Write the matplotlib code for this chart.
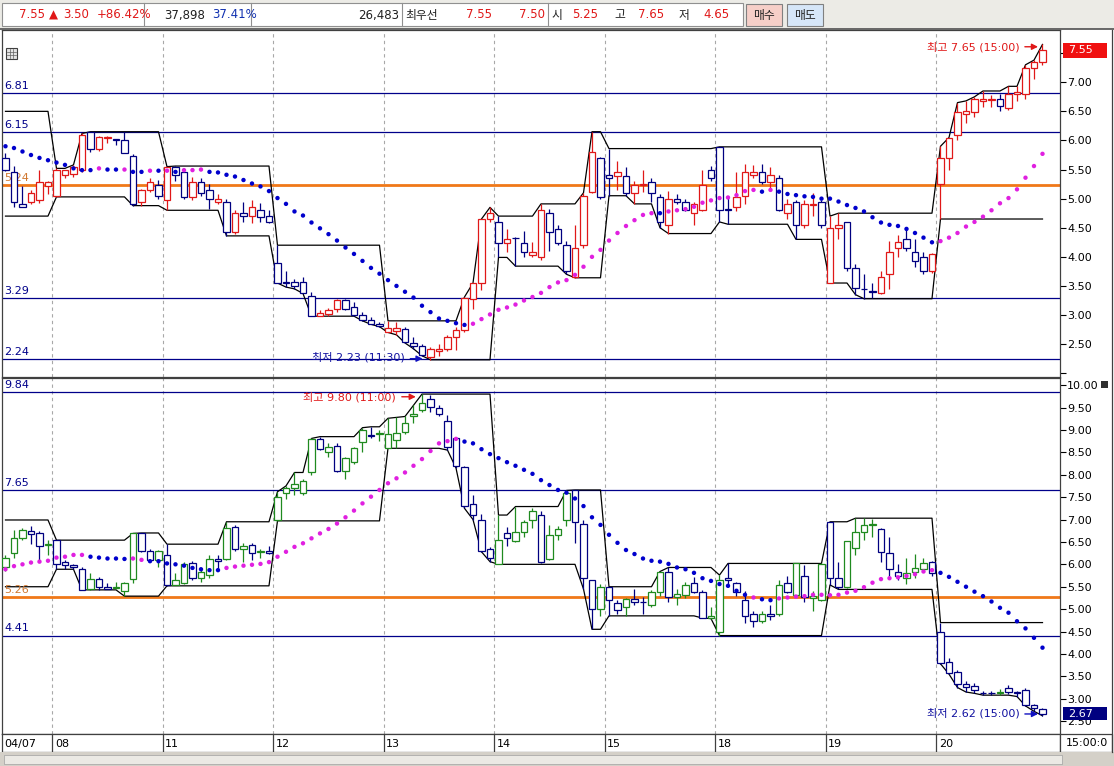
import matplotlib
matplotlib.use("Agg")
import matplotlib.pyplot as plt
from matplotlib.patches import Rectangle
from matplotlib.lines import Line2D
import numpy as np

plt.rcParams['font.family'] = ['DejaVu Sans', 'Noto Sans CJK KR']
plt.rcParams['font.size'] = 8

# ---------------- data ----------------
day_labels = ['04/07', '08', '11', '12', '13', '14', '15', '18', '19', '20']
day_sizes = [6, 13, 13, 13, 13, 13, 13, 13, 13, 13]

# upper chart (red up / navy down), one row per day
top_open = [5.70, 5.46, 4.91, 4.95, 4.97, 5.21,
            5.05, 5.40, 5.43, 5.50, 6.15, 5.85, 6.04, 6.02, 6.00, 5.74, 4.95, 5.14, 5.24,
            4.97, 5.55, 5.45, 5.03, 5.29, 5.14, 4.95, 4.95, 4.43, 4.75, 4.70, 4.81, 4.70,
            3.89, 3.56, 3.56, 3.56, 3.33, 2.98, 3.01, 3.10, 3.26, 3.14, 3.00, 2.91, 2.85,
            2.71, 2.72, 2.76, 2.52, 2.47, 2.28, 2.38, 2.41, 2.62, 2.74, 3.28, 3.55, 4.65,
            4.60, 4.24, 4.33, 4.24, 4.04, 3.99, 4.75, 4.48, 4.20, 3.66, 4.20, 5.12, 5.70,
            5.40, 5.39, 5.39, 5.09, 5.24, 5.29, 5.03, 4.55, 4.99, 4.95, 4.75, 4.80, 5.50,
            5.89, 4.82, 4.85, 5.04, 5.41, 5.45, 5.29, 5.35, 4.75, 4.95, 4.55, 4.89, 4.95,
            3.55, 4.49, 4.59, 3.80, 3.45, 3.41, 3.38, 3.70, 4.15, 4.30, 4.09, 3.99, 3.75,
            5.25, 5.69, 6.09, 6.45, 6.49, 6.68, 6.70, 6.71, 6.55, 6.79, 6.80, 7.25, 7.35]
top_high = [5.78, 5.56, 5.21, 5.15, 5.50, 5.30,
            5.52, 5.50, 5.58, 6.12, 6.15, 6.08, 6.07, 6.03, 6.15, 5.76, 5.16, 5.35, 5.32,
            5.55, 5.56, 5.48, 5.37, 5.35, 5.25, 5.08, 5.00, 4.80, 4.95, 4.98, 4.92, 4.80,
            4.20, 3.75, 3.62, 3.65, 3.40, 3.08, 3.12, 3.28, 3.28, 3.22, 3.05, 2.96, 2.88,
            2.90, 2.88, 2.80, 2.62, 2.50, 2.45, 2.50, 2.65, 2.80, 3.31, 3.55, 4.65, 4.85,
            4.70, 4.48, 4.34, 4.45, 4.25, 4.91, 4.82, 4.55, 4.28, 4.55, 5.10, 6.15, 5.72,
            5.86, 5.65, 5.55, 5.30, 5.50, 5.36, 5.08, 5.13, 5.08, 5.00, 4.95, 5.50, 5.56,
            5.89, 5.04, 5.45, 5.60, 5.58, 5.60, 5.55, 5.40, 5.00, 4.98, 4.98, 5.10, 4.98,
            4.70, 4.75, 4.60, 3.88, 3.70, 3.55, 3.75, 4.28, 4.38, 4.50, 4.30, 4.09, 4.07,
            5.90, 6.05, 6.65, 6.68, 6.75, 6.85, 6.78, 6.80, 6.93, 6.93, 7.30, 7.38, 7.65]
top_low = [5.48, 4.85, 4.85, 4.90, 4.93, 5.08,
           5.03, 5.36, 5.38, 5.45, 5.80, 5.82, 5.96, 5.92, 5.78, 4.88, 4.88, 5.12, 5.00,
           4.80, 5.30, 5.00, 4.98, 5.05, 4.82, 4.90, 4.36, 4.40, 4.60, 4.58, 4.60, 4.58,
           3.55, 3.48, 3.45, 3.37, 2.98, 2.98, 2.99, 3.05, 3.08, 2.98, 2.90, 2.84, 2.80,
           2.70, 2.66, 2.52, 2.42, 2.30, 2.23, 2.30, 2.38, 2.40, 2.70, 3.10, 3.43, 4.60,
           3.99, 4.08, 3.84, 4.00, 4.00, 3.95, 4.10, 4.20, 3.70, 3.64, 4.15, 5.10, 5.00,
           5.05, 5.15, 5.05, 4.91, 5.12, 4.95, 4.50, 4.40, 4.90, 4.78, 4.55, 4.78, 5.30,
           4.60, 4.56, 4.78, 4.90, 5.35, 5.25, 5.18, 4.78, 4.65, 4.30, 4.50, 4.70, 4.50,
           3.55, 4.30, 3.75, 3.35, 3.28, 3.30, 3.36, 3.45, 4.00, 4.10, 3.82, 3.70, 3.72,
           4.65, 5.50, 6.00, 6.30, 6.40, 6.57, 6.58, 6.50, 6.52, 6.67, 6.72, 7.05, 7.30]
top_close = [5.50, 4.95, 4.86, 5.10, 5.29, 5.29,
             5.50, 5.50, 5.54, 6.10, 5.85, 6.06, 6.06, 6.01, 5.79, 4.90, 5.14, 5.29, 5.04,
             5.55, 5.41, 5.03, 5.29, 5.09, 5.00, 4.99, 4.43, 4.76, 4.70, 4.86, 4.69, 4.59,
             3.55, 3.55, 3.50, 3.38, 2.98, 3.04, 3.09, 3.26, 3.10, 3.00, 2.91, 2.85, 2.81,
             2.77, 2.78, 2.54, 2.47, 2.31, 2.41, 2.42, 2.63, 2.74, 3.29, 3.55, 4.65, 4.75,
             4.24, 4.30, 4.32, 4.09, 4.09, 4.80, 4.43, 4.24, 3.76, 4.15, 5.05, 5.80, 5.03,
             5.35, 5.45, 5.09, 5.24, 5.26, 5.09, 4.59, 4.99, 4.95, 4.81, 4.91, 5.23, 5.35,
             4.81, 4.80, 5.03, 5.45, 5.45, 5.29, 5.41, 4.81, 4.91, 4.55, 4.91, 4.91, 4.55,
             4.49, 4.55, 3.80, 3.46, 3.44, 3.40, 3.65, 4.09, 4.25, 4.15, 3.93, 3.75, 4.05,
             5.69, 6.05, 6.49, 6.50, 6.71, 6.71, 6.71, 6.59, 6.80, 6.84, 7.25, 7.35, 7.55]
top_first_day_hilo = (6.50, 4.70)

top_sar = [5.90, 5.87, 5.81, 5.75, 5.70, 5.66,
           5.62, 5.58, 5.52, 5.49, 5.49, 5.52, 5.50, 5.50, 5.50, 5.46, 5.46, 5.48, 5.48,
           5.48, 5.46, 5.49, 5.49, 5.50, 5.46, 5.45, 5.41, 5.38, 5.32, 5.26, 5.21, 5.13,
           5.01, 4.91, 4.78, 4.71, 4.59, 4.49, 4.39, 4.28, 4.16, 4.05, 3.93, 3.81, 3.71,
           3.60, 3.50, 3.40, 3.30, 3.16, 3.05, 2.94, 2.90, 2.86, 2.83, 2.85, 2.93, 3.01,
           3.09, 3.13, 3.18, 3.25, 3.31, 3.38, 3.48, 3.56, 3.60, 3.69, 3.83, 4.00, 4.12,
           4.28, 4.41, 4.53, 4.63, 4.72, 4.75, 4.75, 4.78, 4.80, 4.82, 4.86, 4.93, 4.97,
           5.01, 5.02, 5.06, 5.13, 5.15, 5.12, 5.15, 5.12, 5.08, 5.06, 5.04, 5.03, 5.00,
           5.00, 4.95, 4.89, 4.84, 4.78, 4.68, 4.59, 4.55, 4.53, 4.48, 4.41, 4.33, 4.25,
           4.27, 4.33, 4.41, 4.52, 4.60, 4.69, 4.80, 4.92, 5.01, 5.16, 5.36, 5.56, 5.77]
# b = falling (blue), m = rising (magenta)
top_sar_side = ("bbbbbb" "bbbbbmbbmbbmb" "mbmmmbbbbbbbb" "bbbbbbbbbbbbb" "bbbbbbbbbbmmm"
                "mmmmmmmmmmmmm" "mmmmmmbmmmmmm" "mmmmmbmbbbbbb" "bbbbbbbbbbbbb" "mmmmmmmmmmmmm")

# lower chart (green up / navy down)
bot_open = [5.93, 6.25, 6.58, 6.75, 6.69, 6.43,
            6.54, 6.05, 5.99, 5.89, 5.44, 5.68, 5.49, 5.48, 5.41, 5.68, 6.69, 6.30, 6.09,
            6.21, 5.54, 5.59, 6.04, 5.69, 5.76, 6.11, 6.13, 6.84, 6.34, 6.43, 6.27, 6.30,
            6.99, 7.59, 7.70, 7.59, 8.05, 8.80, 8.50, 8.64, 8.09, 8.28, 8.74, 8.88, 8.92,
            8.59, 8.77, 8.95, 9.30, 9.45, 9.69, 9.50, 9.20, 8.83, 8.17, 7.34, 6.99, 6.34,
            6.01, 6.71, 6.53, 6.73, 6.98, 7.10, 6.13, 6.66, 6.99, 7.66, 6.90, 5.65, 5.00,
            5.49, 5.13, 5.04, 5.22, 5.17, 5.09, 5.39, 5.84, 5.28, 5.31, 5.59, 5.39, 4.80,
            4.50, 5.69, 5.59, 5.20, 4.89, 4.74, 4.89, 4.89, 5.59, 5.32, 5.74, 5.24, 5.20,
            6.95, 5.69, 5.50, 6.36, 6.73, 6.87, 6.78, 6.25, 5.84, 5.69, 5.84, 5.90, 6.05,
            4.48, 3.83, 3.59, 3.34, 3.29, 3.13, 3.13, 3.13, 3.25, 3.14, 3.19, 2.86, 2.78]
bot_high = [6.20, 6.77, 6.80, 6.85, 6.75, 6.55,
            6.54, 6.10, 6.00, 5.95, 5.80, 5.72, 5.58, 5.60, 5.61, 6.69, 6.70, 6.35, 6.32,
            6.45, 5.80, 6.05, 6.08, 5.90, 6.20, 6.20, 6.95, 6.88, 6.47, 6.47, 6.35, 6.40,
            7.62, 7.75, 8.05, 7.90, 8.81, 8.85, 8.70, 8.70, 8.40, 8.62, 9.05, 9.07, 9.00,
            9.26, 9.28, 9.30, 9.55, 9.80, 9.78, 9.55, 9.33, 8.85, 8.20, 7.55, 7.12, 6.38,
            7.10, 6.84, 7.29, 6.99, 7.25, 7.20, 6.88, 6.85, 7.65, 7.66, 7.00, 5.65, 5.55,
            5.50, 5.20, 5.25, 5.45, 5.28, 5.42, 5.84, 5.93, 5.45, 5.60, 5.72, 5.42, 5.05,
            5.76, 6.02, 5.60, 5.40, 4.95, 4.95, 5.10, 5.65, 5.75, 6.02, 5.99, 5.40, 6.02,
            6.95, 6.06, 6.52, 7.03, 7.03, 7.02, 6.80, 6.60, 6.00, 6.15, 6.22, 6.15, 6.08,
            4.70, 3.90, 3.65, 3.40, 3.35, 3.18, 3.18, 3.22, 3.30, 3.18, 3.25, 2.88, 2.80]
bot_low = [5.85, 6.15, 6.55, 6.45, 6.10, 6.20,
           5.89, 5.89, 5.89, 5.43, 5.43, 5.43, 5.44, 5.45, 5.29, 5.59, 6.28, 6.05, 5.95,
           5.52, 5.53, 5.55, 5.65, 5.60, 5.70, 5.85, 6.10, 6.30, 6.05, 6.10, 6.15, 6.22,
           6.97, 7.45, 7.55, 7.55, 8.00, 8.55, 8.40, 8.05, 7.90, 8.25, 8.50, 8.82, 8.75,
           8.59, 8.60, 8.90, 9.15, 9.40, 9.40, 9.30, 8.55, 8.15, 7.25, 7.00, 6.28, 6.06,
           6.00, 6.41, 6.50, 6.62, 6.80, 6.02, 6.10, 6.55, 6.85, 6.48, 5.45, 4.55, 4.85,
           4.85, 4.90, 4.85, 5.10, 4.90, 5.05, 5.30, 5.15, 5.10, 5.25, 5.35, 4.80, 4.79,
           4.41, 5.50, 5.30, 4.70, 4.60, 4.70, 4.75, 4.85, 5.35, 5.28, 5.15, 4.95, 5.18,
           5.54, 5.44, 5.48, 6.20, 6.55, 6.60, 6.05, 5.75, 5.65, 5.55, 5.70, 5.85, 5.75,
           3.78, 3.55, 3.25, 3.15, 3.12, 3.08, 3.09, 3.08, 3.10, 3.05, 2.84, 2.72, 2.62]
bot_close = [6.15, 6.58, 6.77, 6.67, 6.40, 6.45,
             6.00, 5.98, 5.93, 5.43, 5.68, 5.50, 5.45, 5.50, 5.59, 6.69, 6.30, 6.10, 6.30,
             5.54, 5.64, 6.00, 5.69, 5.84, 6.13, 6.07, 6.80, 6.34, 6.41, 6.25, 6.29, 6.25,
             7.51, 7.70, 7.80, 7.86, 8.80, 8.57, 8.61, 8.09, 8.38, 8.59, 9.00, 8.86, 8.94,
             8.90, 8.94, 9.15, 9.35, 9.60, 9.52, 9.35, 8.63, 8.19, 7.30, 7.10, 6.30, 6.14,
             6.54, 6.58, 6.73, 6.94, 7.18, 6.05, 6.66, 6.78, 7.60, 6.95, 5.69, 5.00, 5.49,
             5.20, 4.99, 5.22, 5.15, 5.16, 5.39, 5.84, 5.28, 5.33, 5.54, 5.39, 4.80, 4.85,
             5.65, 5.65, 5.39, 4.85, 4.74, 4.89, 4.85, 5.54, 5.39, 6.02, 5.28, 5.30, 6.00,
             5.69, 5.50, 6.51, 6.73, 6.88, 6.90, 6.28, 5.89, 5.74, 5.80, 5.91, 6.03, 5.80,
             3.80, 3.58, 3.33, 3.26, 3.20, 3.12, 3.12, 3.16, 3.14, 3.13, 2.86, 2.79, 2.67]
bot_first_day_hilo = (6.99, 5.50)

bot_sar = [5.89, 5.96, 6.00, 6.04, 6.06, 6.08,
           6.15, 6.17, 6.21, 6.21, 6.17, 6.15, 6.13, 6.13, 6.12, 6.13, 6.10, 6.07, 6.07,
           6.02, 6.00, 5.97, 5.92, 5.89, 5.87, 5.87, 5.92, 5.95, 5.97, 5.99, 6.01, 6.05,
           6.17, 6.28, 6.39, 6.47, 6.58, 6.69, 6.79, 6.91, 7.05, 7.20, 7.36, 7.51, 7.66,
           7.81, 7.92, 8.05, 8.20, 8.35, 8.53, 8.70, 8.75, 8.80, 8.74, 8.70, 8.57, 8.46,
           8.37, 8.28, 8.20, 8.11, 8.02, 7.88, 7.77, 7.66, 7.60, 7.47, 7.30, 7.05, 6.88,
           6.66, 6.48, 6.32, 6.23, 6.13, 6.08, 6.06, 6.01, 5.93, 5.89, 5.81, 5.69, 5.63,
           5.56, 5.52, 5.41, 5.32, 5.26, 5.22, 5.20, 5.24, 5.26, 5.28, 5.29, 5.32, 5.32,
           5.31, 5.32, 5.37, 5.41, 5.49, 5.59, 5.67, 5.69, 5.71, 5.74, 5.78, 5.84, 5.87,
           5.81, 5.72, 5.61, 5.50, 5.39, 5.29, 5.17, 5.03, 4.92, 4.73, 4.57, 4.36, 4.14]
bot_sar_side = ("mmmmmm" "mmmmbbbbbmmbb" "bbbbbbbmmmmmm" "mmmmmmmmmmmmm" "mmmmmmmmmbbbb"
                "bbbbbbbbbbbbb" "bbbbbbbbbbbbb" "bbbbmbbmmmmmm" "mmmmmmmmmmmmm" "bbbbbbbbbbbbb")

top_levels = [6.81, 6.15, 3.29, 2.24]
top_mid_level = 5.24
bot_levels = [9.84, 7.65, 4.41]
bot_mid_level = 5.26

top_last, bot_last = 7.55, 2.67

# ---------------- colours ----------------
RED = '#e01818'
NAVY = '#000080'
GREEN = '#1f8a1f'
DOT_BLUE = '#0000cc'
DOT_MAG = '#e020e0'
ORANGE = '#f07818'
LVL = '#00008a'

W, H = 1114, 766
fig = plt.figure(figsize=(W / 100, H / 100), dpi=100, facecolor='white')


def box(x0, y0, x1, y1):
    return [x0 / W, 1 - y1 / H, (x1 - x0) / W, (y1 - y0) / H]


def px_rect(x0, y0, x1, y1, **kw):
    r = Rectangle((x0 / W, 1 - y1 / H), (x1 - x0) / W, (y1 - y0) / H,
                  transform=fig.transFigure, **kw)
    fig.add_artist(r)


def px_line(x0, y0, x1, y1, **kw):
    fig.add_artist(Line2D([x0 / W, x1 / W], [1 - y0 / H, 1 - y1 / H],
                          transform=fig.transFigure, **kw))


def px_text(x, y, s, **kw):
    fig.text(x / W, 1 - y / H, s, va='center', **kw)


XLIM = (-0.41, 124.06)
n = sum(day_sizes)
xs = np.arange(n)
starts = np.cumsum([0] + day_sizes[:-1])


def channel(h, l, first):
    # intraday running high / low, reset every day
    up, lo = [], []
    for d, (s, k) in enumerate(zip(starts, day_sizes)):
        hi, mn = first if d == 0 else (-np.inf, np.inf)
        for i in range(s, s + k):
            hi = max(hi, h[i])
            mn = min(mn, l[i])
            up.append(hi)
            lo.append(mn)
    return up, lo


def draw_panel(ax, o, h, l, c, upcol, first, sar, side, levels, mid, ylim, ticks, tick_labels):
    o, h, l, c = map(np.asarray, (o, h, l, c))
    ax.set_xlim(*XLIM)
    ax.set_ylim(*ylim)
    for s in starts[1:]:
        ax.axvline(s - 0.5, color='#a8a8a8', lw=0.8, ls=(0, (3, 3)), zorder=1)
    for v in levels:
        ax.axhline(v, color=LVL, lw=0.9, zorder=1.5)
        ax.annotate('%.2f' % v, xy=(0.002, v), xycoords=('axes fraction', 'data'),
                    xytext=(0, 1.5), textcoords='offset points', va='bottom',
                    color=LVL, fontsize=8)
    ax.axhline(mid, color=ORANGE, lw=2.0, zorder=1.6)
    ax.annotate('%.2f' % mid, xy=(0.002, mid), xycoords=('axes fraction', 'data'),
                xytext=(0, 1.5), textcoords='offset points', va='bottom',
                color='#d07830', fontsize=8)

    up, lo = channel(h, l, first)
    ax.plot(xs, up, color='black', lw=0.9, zorder=2)
    ax.plot(xs, lo, color='black', lw=0.9, zorder=2)

    cols = np.where(c >= o, upcol, NAVY)
    ax.vlines(xs, l, h, colors=cols, lw=0.9, zorder=3)
    ax.bar(xs, np.maximum(np.abs(c - o), 0.004), bottom=np.minimum(o, c), width=0.74,
           facecolor='white', edgecolor=cols, linewidth=0.9, zorder=4)

    dcol = [DOT_BLUE if s == 'b' else DOT_MAG for s in side]
    ax.scatter(xs, sar, s=10, c=dcol, linewidths=0, zorder=5)

    ax.set_xticks([])
    ax.yaxis.tick_right()
    ax.set_yticks(ticks)
    ax.set_yticklabels(tick_labels)
    ax.tick_params(axis='y', direction='out', length=4, pad=1, labelsize=8, width=0.8)
    for sp in ax.spines.values():
        sp.set_color('#404040')
        sp.set_linewidth(0.9)


# ---------------- header ----------------
px_rect(0, 0, W, 29, facecolor='#ecebe6', edgecolor='none')
px_rect(2, 3, 743, 26, facecolor='white', edgecolor='#909090', lw=0.8)
for xv in [144, 251, 402, 548]:
    px_line(xv, 3, xv, 26, color='#909090', lw=0.8)
px_line(0, 29, W, 29, color='#505050', lw=1.2)
hdr = dict(fontsize=8.5)
px_text(19, 15, '7.55', color=RED, **hdr)
px_text(49, 15, '▲', color=RED, **hdr)
px_text(63, 15, '3.50', color=RED, **hdr)
px_text(97, 15, '+86.42%', color=RED, **hdr)
px_text(164, 15, '37,898', color='#202020', **hdr)
px_text(212, 15, '37.41%', color='#1030b0', **hdr)
px_text(399, 15, '26,483', color='#202020', ha='right', **hdr)
px_text(405, 15, '최우선', color='#202020', **hdr)
px_text(492, 15, '7.55', color=RED, ha='right', **hdr)
px_text(545, 15, '7.50', color=RED, ha='right', **hdr)
px_text(551, 15, '시', color='#202020', **hdr)
px_text(598, 15, '5.25', color=RED, ha='right', **hdr)
px_text(614, 15, '고', color='#202020', **hdr)
px_text(664, 15, '7.65', color=RED, ha='right', **hdr)
px_text(679, 15, '저', color='#202020', **hdr)
px_text(730, 15, '4.65', color=RED, ha='right', **hdr)
px_rect(746, 4, 782, 26, facecolor='#f6cfc8', edgecolor='#808080', lw=0.8)
px_text(764, 15, '매수', ha='center', color='#202020', **hdr)
px_rect(787, 4, 823, 26, facecolor='#d6e6f8', edgecolor='#808080', lw=0.8)
px_text(805, 15, '매도', ha='center', color='#202020', **hdr)

# ---------------- panels ----------------
ax1 = fig.add_axes(box(2, 30, 1060, 377))
ax2 = fig.add_axes(box(2, 378, 1060, 734))

t1 = np.arange(2.0, 7.51, 0.5)
t1_labels = ['%.2f' % v for v in t1]
t1_labels[0] = ''      # sits on the panel border
t1_labels[-1] = ''     # hidden under the last-price box
draw_panel(ax1, top_open, top_high, top_low, top_close, RED, top_first_day_hilo,
           top_sar, top_sar_side, top_levels, top_mid_level, (1.935, 7.898),
           t1, t1_labels)
t2 = np.arange(2.5, 10.01, 0.5)
draw_panel(ax2, bot_open, bot_high, bot_low, bot_close, GREEN, bot_first_day_hilo,
           bot_sar, bot_sar_side, bot_levels, bot_mid_level, (2.213, 10.159),
           t2, ['%.2f' % v for v in t2])

# high / low notes
ax1.text(119.3, 7.61, '최고 7.65 (15:00)', ha='right', va='center', color=RED, fontsize=8, zorder=6)
ax1.annotate('', xy=(121.8, 7.61), xytext=(119.6, 7.61),
             arrowprops=dict(arrowstyle='-|>', color=RED, lw=1, mutation_scale=9))
ax1.text(47.0, 2.27, '최저 2.23 (11:30)', ha='right', va='center', color='#1010a0', fontsize=8, zorder=6)
ax1.annotate('', xy=(49.4, 2.25), xytext=(47.3, 2.25),
             arrowprops=dict(arrowstyle='-|>', color='#1010c0', lw=1, mutation_scale=9))
ax2.text(45.9, 9.74, '최고 9.80 (11:00)', ha='right', va='center', color=RED, fontsize=8, zorder=6)
ax2.annotate('', xy=(48.6, 9.74), xytext=(46.3, 9.74),
             arrowprops=dict(arrowstyle='-|>', color=RED, lw=1, mutation_scale=9))
ax2.text(119.3, 2.68, '최저 2.62 (15:00)', ha='right', va='center', color='#1010a0', fontsize=8, zorder=6)
ax2.annotate('', xy=(121.8, 2.66), xytext=(119.6, 2.66),
             arrowprops=dict(arrowstyle='-|>', color='#1010c0', lw=1, mutation_scale=9))

# last price boxes on the right scale
for ax, val, col, hgt in [(ax1, top_last, '#f01010', 0.26), (ax2, bot_last, NAVY, 0.31)]:
    ax.add_patch(Rectangle((1.003, val - hgt / 2), 0.041, hgt, transform=ax.get_yaxis_transform(),
                           facecolor=col, edgecolor='none', clip_on=False, zorder=8))
    ax.annotate('%.2f' % val, xy=(1.008, val), xycoords=('axes fraction', 'data'),
                va='center', ha='left', color='white', fontsize=8, zorder=9,
                annotation_clip=False)

# small icons
px_rect(6, 48, 17, 59, facecolor='#e4e4e4', edgecolor='#404040', lw=0.8)
for yy in [51.5, 55]:
    px_line(7, yy, 16, yy, color='#606060', lw=0.5)
for xx in [9.5, 13]:
    px_line(xx, 49, xx, 58, color='#606060', lw=0.5)
px_rect(1101, 381, 1108, 388, facecolor='#303030', edgecolor='none')

# ---------------- date row ----------------
axd = fig.add_axes(box(2, 734, 1060, 752))
axd.set_xlim(*XLIM)
axd.set_ylim(0, 1)
axd.set_xticks([])
axd.set_yticks([])
for sp in axd.spines.values():
    sp.set_color('#404040')
    sp.set_linewidth(0.9)
for d, (s, lab) in enumerate(zip(starts, day_labels)):
    if d > 0:
        axd.axvline(s - 0.5, color='#404040', lw=0.9)
        axd.text(s - 0.5 + 0.3, 0.45, lab, va='center', ha='left', fontsize=8)
    else:
        axd.text(-0.1, 0.45, lab, va='center', ha='left', fontsize=8)
px_rect(1060, 734, 1112, 752, facecolor='white', edgecolor='#404040', lw=0.9)
px_text(1066, 743, '15:00:0', fontsize=8)
px_line(1112, 30, 1112, 752, color='#404040', lw=0.9)

# scroll bar strip
px_rect(0, 752, W, H, facecolor='#d4d0c8', edgecolor='none')
px_rect(4, 755, 1062, 764, facecolor='#ebe9e4', edgecolor='#a0a0a0', lw=0.5)

fig.savefig('out.png', dpi=100, facecolor='white')
